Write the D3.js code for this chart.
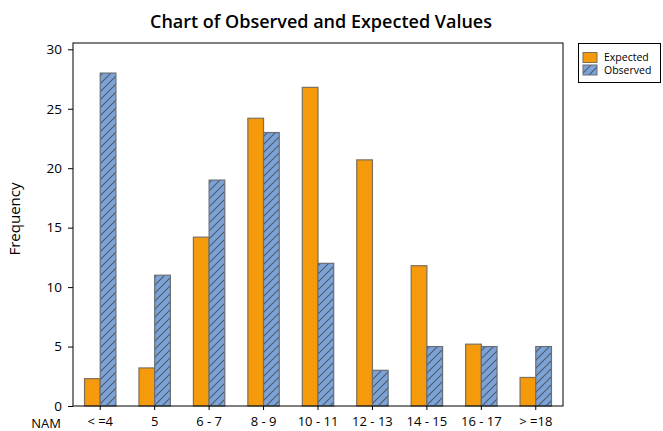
<!DOCTYPE html>
<html>
<head>
<meta charset="utf-8">
<script src="https://d3js.org/d3.v7.min.js"></script>
<style>
  body { margin: 0; background: #fff; }
  text { font-family: "Open Sans", "Noto Sans", sans-serif; fill: #000; }
</style>
</head>
<body>
<div id="chart"></div>
<script>
const categories = ["< =4", "5", "6 - 7", "8 - 9", "10 - 11", "12 - 13", "14 - 15", "16 - 17", "> =18"];
const expected = [2.3, 3.2, 14.2, 24.2, 26.8, 20.7, 11.8, 5.2, 2.4];
const observed = [28, 11, 19, 23, 12, 3, 5, 5, 5];
const yTicks = [0, 5, 10, 15, 20, 25, 30];
const seriesNames = ["Expected", "Observed"];

const w = 663, h = 431;
const padL = 73, padR = 563, padT = 43, padB = 406;

const svg = d3.select("#chart").append("svg")
  .attr("width", w)
  .attr("height", h);

// hatch for observed bars
const defs = svg.append("defs");
const pat = defs.append("pattern")
  .attr("id", "hatch")
  .attr("patternUnits", "userSpaceOnUse")
  .attr("width", 8)
  .attr("height", 8);
pat.append("rect").attr("width", 8).attr("height", 8).attr("fill", "#7ba3d8");
pat.append("path")
  .attr("d", "M-2,2 L2,-2 M0,8 L8,0 M6,10 L10,6")
  .attr("stroke", "#4f5866")
  .attr("stroke-width", 1.1);

const x = d3.scaleBand()
  .domain(categories)
  .range([padL, padR])
  .paddingInner(0)
  .paddingOuter(0);

const y = d3.scaleLinear()
  .domain([0, 30])
  .range([padB, 49.3]);

const barW = 15.7;

// title
svg.append("text")
  .attr("x", 321)
  .attr("y", 28)
  .attr("text-anchor", "middle")
  .style("font-size", "18px")
  .style("font-weight", "600")
  .text("Chart of Observed and Expected Values");

// bars
const g = svg.append("g");
g.selectAll(".exp")
  .data(expected)
  .enter()
  .append("rect")
  .attr("class", "exp")
  .attr("x", (d, i) => x(categories[i]) + x.bandwidth() / 2 - barW)
  .attr("y", d => y(d))
  .attr("width", barW)
  .attr("height", d => padB - y(d))
  .attr("fill", "#f59a0a")
  .attr("stroke", "#7d6f5c")
  .attr("stroke-width", 1.2);

g.selectAll(".obs")
  .data(observed)
  .enter()
  .append("rect")
  .attr("class", "obs")
  .attr("x", (d, i) => x(categories[i]) + x.bandwidth() / 2)
  .attr("y", d => y(d))
  .attr("width", barW)
  .attr("height", d => padB - y(d))
  .attr("fill", "url(#hatch)")
  .attr("stroke", "#6b6f75")
  .attr("stroke-width", 1.2);

// frame
svg.append("rect")
  .attr("x", padL)
  .attr("y", padT)
  .attr("width", padR - padL)
  .attr("height", padB - padT)
  .attr("fill", "none")
  .attr("stroke", "#000")
  .attr("stroke-width", 1);

// axes
const yAxis = d3.axisLeft(y).tickValues(yTicks).tickSize(5).tickPadding(6);
const yg = svg.append("g")
  .attr("transform", "translate(" + padL + ",0)")
  .call(yAxis);
yg.select(".domain").remove();
yg.selectAll("text").style("font-size", "13.5px");

const xAxis = d3.axisBottom(x).tickSize(4).tickPadding(7);
const xg = svg.append("g")
  .attr("transform", "translate(0," + padB + ")")
  .call(xAxis);
xg.select(".domain").remove();
xg.selectAll("text").style("font-size", "13px");

svg.append("text")
  .attr("x", 61)
  .attr("y", 428)
  .attr("text-anchor", "end")
  .style("font-size", "13px")
  .text("NAM");

// y axis title
svg.append("text")
  .attr("transform", "translate(20," + 219 + ") rotate(-90)")
  .attr("text-anchor", "middle")
  .style("font-size", "15px")
  .text("Frequency");

// legend
const lg = svg.append("g");
lg.append("rect")
  .attr("x", 578.5)
  .attr("y", 43.5)
  .attr("width", 82)
  .attr("height", 39)
  .attr("fill", "#fff")
  .attr("stroke", "#000")
  .attr("stroke-width", 1);
const fills = ["#f59a0a", "url(#hatch)"];
const strokes = ["#7d6f5c", "#6b6f75"];
seriesNames.forEach((name, i) => {
  lg.append("rect")
    .attr("x", 583)
    .attr("y", 52.5 + i * 12.5)
    .attr("width", 14)
    .attr("height", 10)
    .attr("fill", fills[i])
    .attr("stroke", strokes[i]);
  lg.append("text")
    .attr("x", 604)
    .attr("y", 61 + i * 12.5)
    .style("font-size", "10.5px")
    .text(name);
});
</script>
</body>
</html>
